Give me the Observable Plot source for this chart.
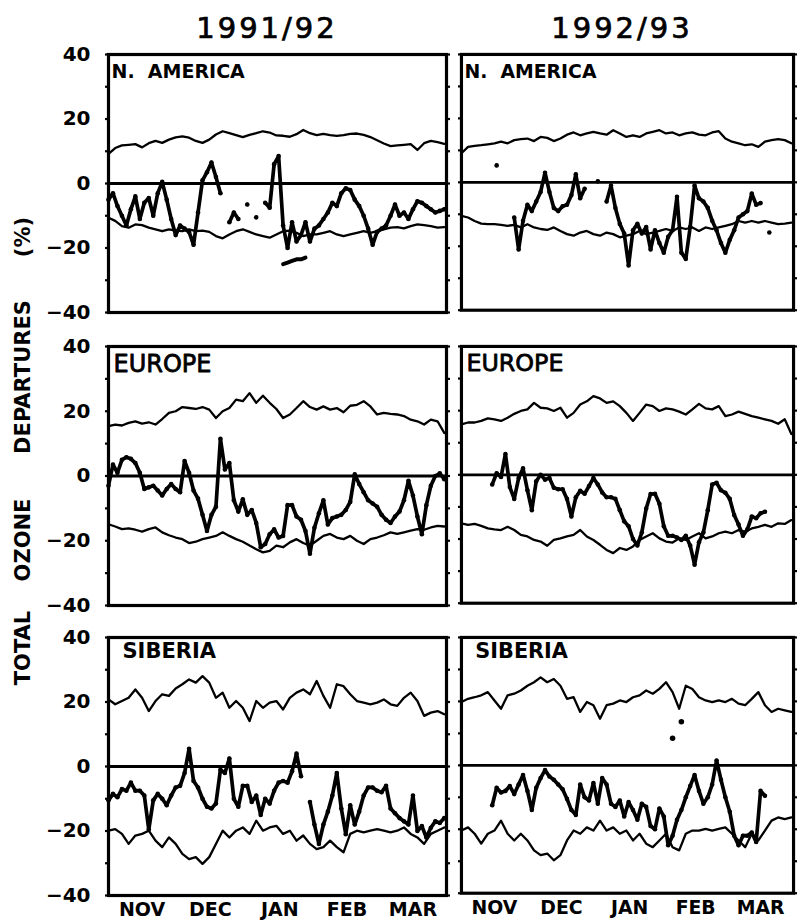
<!DOCTYPE html>
<html><head><meta charset="utf-8">
<script src="https://cdn.jsdelivr.net/npm/d3@7"></script>
<script src="https://cdn.jsdelivr.net/npm/@observablehq/plot@0.6"></script>
<style>
body{margin:0;background:#fff;}
#wrap{position:relative;width:799px;height:924px;overflow:hidden;font-family:"DejaVu Sans",sans-serif;color:#000;background:#fff;}
.abs{position:absolute;}
.title{font-size:29px;line-height:29px;letter-spacing:3px;white-space:nowrap;transform:translateX(-50%);-webkit-text-stroke:0.7px #000;}
.ylab{font-size:21px;line-height:21px;font-weight:bold;white-space:pre;transform:translate(-50%,-50%) rotate(-90deg);}
svg{overflow:visible;}
</style></head><body><div id="wrap"></div>
<script>
// ---------- categories / ticks ----------
const seasons = ["1991/92", "1992/93"];
const regions = ["N.  AMERICA", "EUROPE", "SIBERIA"];
const months = ["NOV", "DEC", "JAN", "FEB", "MAR"];
const monthMid = [15, 45.5, 76.5, 106.5, 136];   // day index of mid-month (day 0 = 1 Nov)
const yTicks = [-40, -20, 0, 20, 40];
const yMinor = [-40, -30, -20, -10, 0, 10, 20, 30, 40];
const yLabelWords = ["TOTAL", "OZONE", "DEPARTURES", "(%)"];
const envDays = d3.range(0, 151, 3);   // envelope sampled every 3 days
const obsDays = d3.range(0, 151, 2);   // observations sampled every 2 days

// ---------- N. AMERICA 1991/92 ----------
const naUp91 = [9.2,11,11.8,12,12.2,11.2,12.5,13.2,12.6,13.6,14.3,14.6,14.2,13.2,12.6,13.6,15.2,16.2,15.6,15,14.4,15.1,15.6,16.2,15.8,14.9,14.8,14.5,15.3,16.6,15.6,15,15.4,15,14.8,15,15.4,15.5,15.1,14.4,13.4,12.4,11.6,11.8,12,12.2,10.4,12.5,13.2,12.8,12.3];
const naLo91 = [-10.6,-11.6,-13.2,-13.7,-12.7,-12.9,-13.7,-14.2,-14.8,-14.2,-14.6,-14.8,-14.2,-14.8,-14.6,-15,-16.3,-17,-15.8,-14.8,-14.2,-15,-15.8,-16.3,-16.8,-15.8,-14.8,-14.6,-15.3,-16.3,-15.8,-15.8,-15.3,-14.8,-15.8,-16.3,-15.8,-15.3,-14.8,-15.3,-14.8,-14.2,-13.7,-13.5,-13.9,-13.2,-12.7,-12.9,-13.2,-13.7,-13.5];
const naObs91 = [-5,-3,-7,-10,-13,-8,-4,-11,-6,-4.5,-10,-3,0.5,-5,-11,-16,-13,-14,-15,-19,-9,1,3.5,6.5,2,-3,null,-12,-9,-11,null,-6.5,null,-10.5,null,-6,-7.5,6,8.5,-13,-20,-12,-18,-16,-12,-18,-14,-13,-11,-9,-6,-7,-3,-1.5,-2,-5,-7,-10,-14,-19,-15,-14,-13,-10,-6.5,-10,-9,-11,-8,-5.5,-6,-7,-8,-9,-8.5,-8];
const naLowDays91 = [78, 80, 82, 84, 86, 88];
const naLowVals91 = [-25, -24.5, -24, -23.5, -23.5, -23];

// ---------- N. AMERICA 1992/93 ----------
const naUp92 = [9.1,11.1,11.4,11.6,11.9,12.2,12.7,12.2,13.2,13.5,13.7,12.9,14.2,13.9,12.9,13.7,14.9,15.6,14.7,15.3,15.8,15.3,14.9,16.3,15.3,14.2,14.7,14.2,15.3,15.8,16.3,15.3,15.6,14.7,15.3,15.6,14.9,14.7,15.6,16,13.7,12.7,12.2,11.6,11.9,11.1,12.7,13.2,13.5,13.2,12.2];
const naLo92 = [-10.5,-11,-12.1,-12.9,-13.1,-13.1,-13.3,-13.6,-13.3,-14.1,-13.1,-14.1,-14.6,-14.9,-14.1,-15.2,-16.2,-16.7,-15.7,-15.2,-16.2,-16.7,-15.7,-16.2,-17.2,-16.7,-16.2,-15.2,-16.2,-15.7,-15.2,-14.6,-15.2,-14.1,-14.6,-14.1,-15.2,-14.1,-14.6,-14.1,-13.6,-13.1,-12.1,-12.6,-12.1,-12.6,-12.1,-12.6,-13.1,-12.9,-12.6];
const naObs92 = [null,null,null,null,null,null,null,null,5.3,null,null,null,-11,-21,-12,-7,-9,-6,-3,3,-3,-8,-9,-7.5,-7,-4,2.5,-5,-2,null,null,0.3,null,-6,-1,-8,-13,-16,-26,-15,-13,-16,-14,-21,-15,-19,-22,-17,-15,-4.5,-22,-24,-14,-1,-5,-6,-8,-12,-15,-19,-22,-18,-15,-11,-10,-9,-3.5,-7,-6.5,null,-15.7,null,null,null,null,null];

// ---------- EUROPE 1991/92 ----------
const euUp91 = [15.4,15.9,15.6,16.4,16.9,16.2,16.6,15.9,17.6,19.5,20,21.3,21,20.7,21.3,20.5,17.9,20,21,23.6,23.1,25.6,22.6,24.8,22.6,20.7,17.9,19,21,23.1,21.3,20.5,21.5,20.5,21,19.7,21.7,22,23.1,21.5,19,19.5,19.2,19,18.5,17.4,16.9,15.9,17.4,16.9,13.3];
const euLo91 = [-14.9,-15.6,-16.4,-16.2,-16.6,-17.2,-16.4,-15.9,-17.4,-18.3,-19,-19.5,-20.7,-20.3,-19.5,-19,-18.5,-17.4,-18.5,-19.5,-20.3,-21.5,-22.6,-23.6,-23.1,-21.5,-22,-20.5,-19.5,-20.7,-21.5,-20,-18.5,-17.9,-19,-19.5,-18.5,-20,-21,-19.5,-19,-18.3,-17.4,-17.9,-17.4,-16.9,-16.4,-16.6,-15.9,-15.4,-15.6];
const euObs91 = [-3,3.5,1,5,5.8,5.3,4,1,-4,-3.5,-3,-4.5,-6,-4,-2.5,-4,-5,4.6,1,-4.5,-7,-12,-17,-12,-9.5,11.5,2,4,-7.5,-11,-7.2,-12,-10.5,-14.5,-22,-21,-18,-16.5,-19,-18.5,-9,-9,-12.5,-13.5,-17,-24,-16,-11.5,-7.5,-15,-13,-12.5,-12,-10.5,-8,0.5,-2.5,-5,-7.5,-8.5,-9.5,-12,-13.5,-14.5,-12.5,-11,-7.5,-1.5,-6,-12.5,-18,-9,-3,0,0.8,-1];

// ---------- EUROPE 1992/93 ----------
const euUp92 = [15.7,16.3,16.3,16.8,17.6,17.3,16.8,17.8,19,19.9,20.4,22.4,20.9,20.7,19.9,20.9,17.8,19.3,21.9,22.9,24.5,23.8,22.4,22.9,21.4,19.3,16.8,19.3,21.9,21.4,19.9,20.7,20.4,19.7,18.8,20.4,22.1,20.7,20.4,21.4,18.3,18.8,19.7,19,18.3,17.8,17.3,16.8,15.9,17.3,12.7];
const euLo92 = [-15.1,-15.6,-15.3,-15.9,-16.7,-17,-17.2,-16.2,-17.2,-18.7,-19.2,-20.3,-20.8,-22.1,-20.3,-19.8,-19.2,-18.7,-17.2,-19.2,-20.3,-21.8,-23.4,-24.4,-22.8,-23.4,-22.3,-20.3,-19.2,-18.2,-19.8,-20.8,-21.1,-19.8,-20.3,-19.2,-18.2,-19.8,-19.2,-18.2,-17.7,-18.2,-17.2,-17.7,-16.7,-16.2,-15.6,-16.2,-15.1,-15.3,-14.1];
const euObs92 = [null,null,null,null,null,null,null,-3,0.5,-0.7,6.5,-3.8,-7.5,-1,2,-4.8,-11,-2,0,-1.5,-1,-4,-4.5,-4.5,-7.5,-13,-7,-5,-5.9,-3.5,-1,-3,-5.5,-7,-7,-7.5,-11,-14.5,-16,-20,-22,-18,-10.5,-6,-5.9,-9,-16,-19,-19,-19.5,-20.3,-19,-22,-28,-21,-18,-11,-3,-2.5,-4.8,-5.6,-7.5,-12.5,-15.5,-19,-17,-13,-13.5,-12,-11.5,null,null,null,null,null,null];

// ---------- SIBERIA 1991/92 ----------
const sbUp91 = [20.8,19.3,20.3,21.3,23.9,21.3,17.2,20.3,22.4,21.9,24.2,25.5,27,26,28,26,21.3,22.9,18.2,20.3,18.2,14.1,20.3,18.2,19.8,20.3,17.7,21.3,22.9,23.9,22.4,26.5,21.9,18.2,25.5,24.9,22.4,20.3,19.8,19.3,19.8,20.8,19.3,18.8,21.3,22.9,20.3,15.7,16.7,17.2,16.2];
const sbLo91 = [-19.9,-19.4,-20.9,-24,-21.4,-20.9,-19.9,-23,-25,-22,-24,-27.1,-28.7,-28.1,-30.2,-28.1,-24,-19.9,-22,-19.9,-18.9,-20.9,-16.8,-19.9,-18.9,-18.4,-20.9,-19.9,-23,-21.4,-24,-25.6,-25,-23,-25,-26.6,-20.9,-19.9,-20.4,-19.9,-19.4,-19.9,-20.4,-19.9,-18.9,-20.9,-22,-24,-20.9,-19.9,-18.9];
const sbObs91 = [-10.5,-8.5,-9.5,-7,-7.5,-5,-7.5,-7.5,-9,-19.5,-10.5,-8.5,-10,-12,-9,-6.5,-6,-2,5.5,-4.5,-6.5,-10,-12.5,-13,-11.5,-1,-2,2.5,-10,-12.5,-6,-6,-11,-9,-15,-10,-11.5,-7.5,-5,-4.5,-5,-1.5,4,-3,null,-11,-18,-24,-18,-14,-9,-2,-13,-21,-12,-18,-14,-9,-6.5,-6.5,-7.5,-8,-6,-13,-14.5,-16,-17,-18,-9,-20,-18.5,-22,-19,-17,-17.5,-16];

// ---------- SIBERIA 1992/93 ----------
const sbUp92 = [19.8,20.8,21.3,21.9,22.9,20.3,17.7,21.9,22.4,23.4,24.9,26,27.5,26,27,24.9,20.8,21.3,16.7,19.8,18.8,14.6,18.8,19.3,20.3,19.8,21.3,21.9,23.4,22.4,23.9,26,22.9,17.7,24.9,23.9,21.3,20.3,19.8,20.3,19.8,20.8,19.3,18.8,20.8,22.9,18.8,16.7,17.7,17.2,16.7];
const sbLo92 = [-20.4,-19.4,-21.4,-24.5,-21.4,-20.4,-17.3,-21.4,-23.5,-21.4,-23.5,-26.6,-28.1,-27.6,-29.7,-28.1,-23.5,-20.4,-21.4,-19.4,-20.4,-17.3,-20.4,-19.4,-21.4,-20.4,-23.5,-21.4,-24.5,-25.6,-23.5,-21.4,-25.6,-26.6,-21.4,-20.4,-20.4,-19.9,-20.4,-19.9,-19.4,-21.4,-23.5,-25.6,-21.4,-23.5,-20.4,-17.3,-16.3,-16.8,-16.3];
const sbObs92 = [null,null,null,null,null,null,null,-12.5,-7,-8.5,-8,-6.5,-9,-6,-3,-8,-14,-7,-4,-1.5,-3.5,-4.5,-6,-7.5,-10.5,-14,-15.5,-6,-10,-11,-5.5,-12,-4,-6,-12,-13,-11,-16,-11.5,-14,-17,-12,-13,-19,-20,-13.5,-16,-25,-22,-17,-14,-10,-6.5,-3,-8,-12,-10,-6,1.5,-4.5,-10,-14.5,-22,-25,-22,-22,-21,-24,-8,-9.5,null,null,null,null,null,null];
const sbDotDays92 = [96, 100];
const sbDotVals92 = [8.5, 13.6];

// ---------- layout ----------
const wrap = document.getElementById("wrap");
const colFrame = [{x: 108, w: 338}, {x: 461, w: 335}];
const rowFrame = [{y: 54, h: 258}, {y: 346, h: 259}, {y: 637, h: 258}];
const labelStyle = [
  {fontSize: 19, fontWeight: "bold", dx: 3, dy: 10, stroke: null},
  {fontSize: 24, fontWeight: "normal", dx: 5, dy: 8, stroke: "black"},
  {fontSize: 21, fontWeight: "bold", dx: 14, dy: 6, stroke: null}
];
const panels = [
  [{up: naUp91, lo: naLo91, obs: naObs91, extraLine: [naLowDays91, naLowVals91]}, {up: naUp92, lo: naLo92, obs: naObs92}],
  [{up: euUp91, lo: euLo91, obs: euObs91}, {up: euUp92, lo: euLo92, obs: euObs92}],
  [{up: sbUp91, lo: sbLo91, obs: sbObs91}, {up: sbUp92, lo: sbLo92, obs: sbObs92, extraDots: [sbDotDays92, sbDotVals92]}]
];

function drawPanel(r, c) {
  const p = panels[r][c];
  const left = c === 0, bottom = r === 2;
  const mL = left ? 62 : 6, mR = 6, mT = 6, mB = bottom ? 34 : 6;
  const W = mL + colFrame[c].w + mR, H = mT + rowFrame[r].h + mB;
  const env = envDays.map((d, i) => ({d, up: p.up[i], lo: p.lo[i]}));
  const obs = obsDays.map((d, i) => ({d, v: p.obs[i]}));
  const ls = labelStyle[r];
  const marks = [
    Plot.ruleY([0], {stroke: "black", strokeWidth: 2.8}),
    Plot.line(env, {x: "d", y: "up", stroke: "black", strokeWidth: 2.3, strokeLinejoin: "round"}),
    Plot.line(env, {x: "d", y: "lo", stroke: "black", strokeWidth: 2.3, strokeLinejoin: "round"}),
    Plot.line(obs, {x: "d", y: "v", stroke: "black", strokeWidth: 3.7, strokeLinejoin: "round", strokeLinecap: "round"}),
    Plot.dot(obs.filter(o => o.v != null), {x: "d", y: "v", r: 2.3, fill: "black", stroke: null}),
    Plot.frame({stroke: "black", strokeWidth: 3.2}),
    Plot.axisY({anchor: "left", ticks: yMinor, tickSize: 3, tickFormat: () => "", strokeWidth: 2.2, label: null}),
    Plot.axisY({anchor: "right", ticks: yMinor, tickSize: 3, tickFormat: () => "", strokeWidth: 2.2, label: null}),
    Plot.text([regions[r]], {frameAnchor: "top-left", text: d => d, dx: ls.dx, dy: ls.dy, textAnchor: "start", lineAnchor: "top",
      fontSize: ls.fontSize, fontWeight: ls.fontWeight, fill: "black", stroke: ls.stroke, strokeWidth: 0.8, fontFamily: "DejaVu Sans"})
  ];
  if (p.extraLine) {
    const ex = p.extraLine[0].map((d, i) => ({d, v: p.extraLine[1][i]}));
    marks.push(Plot.line(ex, {x: "d", y: "v", stroke: "black", strokeWidth: 4, strokeLinecap: "round"}));
  }
  if (p.extraDots) {
    const ed = p.extraDots[0].map((d, i) => ({d, v: p.extraDots[1][i]}));
    marks.push(Plot.dot(ed, {x: "d", y: "v", r: 2.8, fill: "black", stroke: null}));
  }
  if (left) {
    marks.push(Plot.axisY({anchor: "left", ticks: yTicks, tickSize: 0, tickPadding: 18, label: null,
      fontSize: 20, fontWeight: "bold", fontFamily: "DejaVu Sans"}));
  }
  if (bottom) {
    marks.push(Plot.axisX({anchor: "bottom", ticks: monthMid, tickSize: 0, tickPadding: 7, label: null,
      tickFormat: d => months[monthMid.indexOf(d)], fontSize: 19, fontWeight: "bold", fontFamily: "DejaVu Sans"}));
  }
  const chart = Plot.plot({
    width: W, height: H,
    marginLeft: mL, marginRight: mR, marginTop: mT, marginBottom: mB,
    style: {background: "transparent", fontFamily: "DejaVu Sans", color: "black"},
    x: {domain: [0, 151], axis: null},
    y: {domain: [-40, 40], axis: null},
    marks
  });
  const holder = document.createElement("div");
  holder.className = "abs";
  holder.style.left = (colFrame[c].x - mL) + "px";
  holder.style.top = (rowFrame[r].y - mT) + "px";
  holder.appendChild(chart);
  wrap.appendChild(holder);
}
for (let r = 0; r < 3; r++) for (let c = 0; c < 2; c++) drawPanel(r, c);

// titles
const titleX = [267, 622];
seasons.forEach((s, i) => {
  const t = document.createElement("div");
  t.className = "abs title";
  t.style.left = titleX[i] + "px";
  t.style.top = "14px";
  t.textContent = s;
  wrap.appendChild(t);
});
// y label words
const wordY = [648, 540, 377, 237];
yLabelWords.forEach((w, i) => {
  const t = document.createElement("div");
  t.className = "abs ylab";
  t.style.left = "23px";
  t.style.top = wordY[i] + "px";
  t.textContent = w;
  wrap.appendChild(t);
});
</script></body></html>
